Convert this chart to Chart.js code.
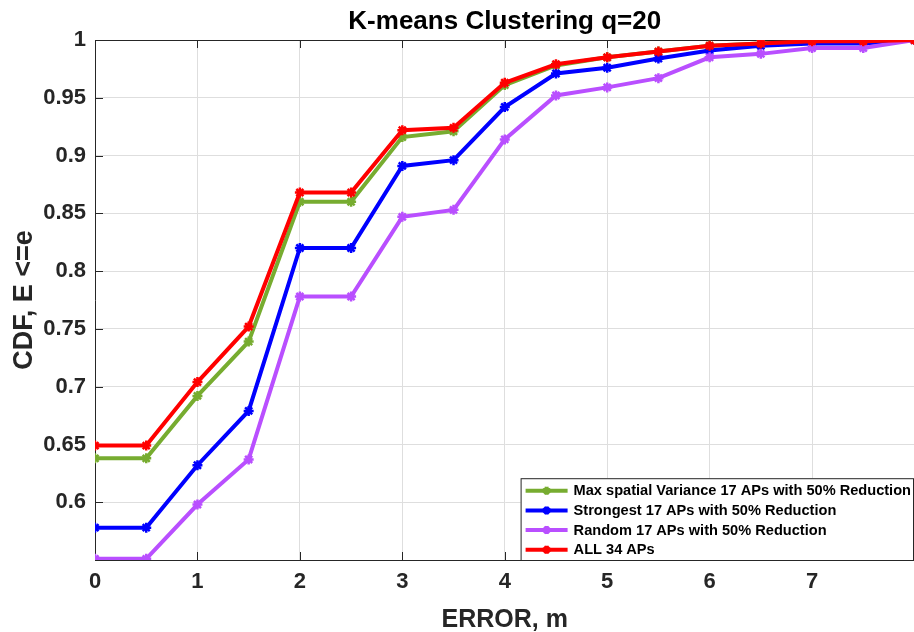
<!DOCTYPE html>
<html>
<head>
<meta charset="utf-8">
<script src="https://cdn.jsdelivr.net/npm/chart.js@4.4.1/dist/chart.umd.min.js"></script>
<style>
  html, body { margin: 0; padding: 0; background: #fff; overflow: hidden; }
  #wrap { width: 922px; height: 632px; }
</style>
</head>
<body>
<div id="wrap"><canvas id="cdf-chart"></canvas></div>
<script>
// 误差 (m)
const errors = [0, 0.5, 1, 1.5, 2, 2.5, 3, 3.5, 4, 4.5, 5, 5.5, 6, 6.5, 7, 7.5, 8];

// 各种AP选择方式下的 CDF
const maxVariance = [0.638, 0.638, 0.692, 0.739, 0.860, 0.860, 0.916, 0.921, 0.961, 0.978, 0.985, 0.990, 0.995, 0.997, 0.998, 0.998, 1.0];
const strongest   = [0.578, 0.578, 0.632, 0.679, 0.820, 0.820, 0.891, 0.896, 0.942, 0.971, 0.976, 0.984, 0.991, 0.995, 0.997, 0.997, 1.0];
const randomAps   = [0.551, 0.551, 0.598, 0.637, 0.778, 0.778, 0.847, 0.853, 0.914, 0.952, 0.959, 0.967, 0.985, 0.988, 0.993, 0.993, 1.0];
const allAps      = [0.649, 0.649, 0.704, 0.752, 0.868, 0.868, 0.922, 0.924, 0.963, 0.979, 0.985, 0.990, 0.995, 0.997, 0.999, 0.999, 1.0];

const seriesLabels = [
    'Max spatial Variance 17 APs with 50% Reduction',
    'Strongest 17 APs with 50% Reduction',
    'Random 17 APs with 50% Reduction',
    'ALL 34 APs'
];
const seriesColors = ['#77ac30', '#0000ff', '#b94fff', '#ff0000'];

// 刻度
const xTicks = [0, 1, 2, 3, 4, 5, 6, 7];
const xTickLabels = ['0', '1', '2', '3', '4', '5', '6', '7'];
const yTicks = [0.6, 0.65, 0.7, 0.75, 0.8, 0.85, 0.9, 0.95, 1];
const yTickLabels = ['0.6', '0.65', '0.7', '0.75', '0.8', '0.85', '0.9', '0.95', '1'];

const chartTitle = 'K-means Clustering q=20';

const FONT = "'Liberation Sans', Arial, sans-serif";
const AXIS_COLOR = '#262626';

const ctx = document.getElementById('cdf-chart').getContext('2d');

function makeDataset(i, values) {
    return {
        label: seriesLabels[i],
        data: errors.map((x, k) => ({ x: x, y: values[k] })),
        borderColor: seriesColors[i],
        backgroundColor: seriesColors[i],
        borderWidth: 4,
        pointStyle: 'star',
        pointRadius: 5,
        pointBorderWidth: 2.5,
        pointHoverRadius: 5,
        tension: 0,
        order: 3 - i // 红线画在最上面
    };
}

// 标题居中于坐标区上方
const axesTitle = {
    id: 'axesTitle',
    afterDraw(chart) {
        const { ctx, chartArea } = chart;
        ctx.save();
        ctx.font = 'bold 26px ' + FONT;
        ctx.fillStyle = '#000';
        ctx.textAlign = 'center';
        ctx.textBaseline = 'alphabetic';
        ctx.fillText(chartTitle, (chartArea.left + chartArea.right) / 2, 28.5);
        ctx.restore();
    }
};

// 内向刻度线 + 上边框 (MATLAB 风格)
const boxTicks = {
    id: 'boxTicks',
    beforeDatasetsDraw(chart) {
        const { ctx, chartArea, scales } = chart;
        const len = 8;
        ctx.save();
        ctx.strokeStyle = AXIS_COLOR;
        ctx.lineWidth = 1;
        ctx.beginPath();
        ctx.moveTo(chartArea.left, chartArea.top + 0.5);
        ctx.lineTo(chartArea.right, chartArea.top + 0.5);
        xTicks.forEach(v => {
            const px = Math.round(scales.x.getPixelForValue(v)) + 0.5;
            ctx.moveTo(px, chartArea.bottom);
            ctx.lineTo(px, chartArea.bottom - len);
            ctx.moveTo(px, chartArea.top);
            ctx.lineTo(px, chartArea.top + len);
        });
        yTicks.forEach(v => {
            const py = Math.round(scales.y.getPixelForValue(v)) + 0.5;
            ctx.moveTo(chartArea.left, py);
            ctx.lineTo(chartArea.left + len, py);
        });
        ctx.stroke();
        ctx.restore();
    }
};

// 图例放在坐标区右下角
const insideLegend = {
    id: 'insideLegend',
    afterDraw(chart) {
        const { ctx, chartArea } = chart;
        const rowH = 19.7;
        const right = 913;
        const bottom = chartArea.bottom;
        ctx.save();
        ctx.font = 'bold 14.6px ' + FONT;
        let textW = 0;
        seriesLabels.forEach(t => { textW = Math.max(textW, ctx.measureText(t).width); });
        const left = right - (5 + 42 + 6 + textW + 2);
        const top = bottom - rowH * 4 - 3;
        ctx.fillStyle = '#fff';
        ctx.fillRect(left, top, right - left, bottom - top);
        ctx.strokeStyle = AXIS_COLOR;
        ctx.lineWidth = 1;
        ctx.strokeRect(left + 0.5, top + 0.5, right - left, bottom - top);
        seriesLabels.forEach((t, i) => {
            const cy = top + 12.5 + i * rowH;
            const x0 = left + 5;
            ctx.strokeStyle = seriesColors[i];
            ctx.lineWidth = 4;
            ctx.beginPath();
            ctx.moveTo(x0, cy);
            ctx.lineTo(x0 + 42, cy);
            ctx.stroke();
            ctx.fillStyle = seriesColors[i];
            Chart.helpers.drawPoint(ctx, { pointStyle: 'star', radius: 4, borderWidth: 2.5 }, x0 + 21, cy);
            ctx.fillStyle = '#000';
            ctx.textBaseline = 'middle';
            ctx.textAlign = 'left';
            ctx.fillText(t, x0 + 48, cy + 0.5);
        });
        ctx.restore();
    }
};

const chart = new Chart(ctx, {
    type: 'line',
    data: {
        datasets: [
            makeDataset(0, maxVariance),
            makeDataset(1, strongest),
            makeDataset(2, randomAps),
            makeDataset(3, allAps)
        ]
    },
    options: {
        responsive: true,
        maintainAspectRatio: false,
        animation: false,
        layout: { padding: { top: 40, left: 0, right: 0, bottom: 0 } },
        plugins: {
            legend: { display: false },
            tooltip: { enabled: false },
            title: { display: false }
        },
        scales: {
            x: {
                type: 'linear',
                min: 0,
                max: 8,
                afterBuildTicks: scale => { scale.ticks = xTicks.map(v => ({ value: v })); },
                afterFit: scale => { scale.height = 72; },
                ticks: {
                    color: AXIS_COLOR,
                    font: { family: FONT, size: 22, weight: 'bold' },
                    padding: 9,
                    maxRotation: 0,
                    callback: v => xTickLabels[xTicks.indexOf(v)]
                },
                grid: { color: '#dedede', drawTicks: false },
                border: { color: AXIS_COLOR, width: 1 },
                title: {
                    display: true,
                    text: 'ERROR, m',
                    color: AXIS_COLOR,
                    font: { family: FONT, size: 25, weight: 'bold' },
                    padding: { top: 0, bottom: -3 }
                }
            },
            y: {
                min: 0.55,
                max: 1,
                afterBuildTicks: scale => { scale.ticks = yTicks.map(v => ({ value: v })); },
                afterFit: scale => { scale.width = 95; },
                ticks: {
                    color: AXIS_COLOR,
                    font: { family: FONT, size: 22, weight: 'bold' },
                    padding: 9,
                    callback: v => yTickLabels[yTicks.findIndex(t => Math.abs(t - v) < 1e-6)]
                },
                grid: { color: '#dedede', drawTicks: false },
                border: { color: AXIS_COLOR, width: 1 },
                title: {
                    display: true,
                    text: 'CDF, E <=e',
                    color: AXIS_COLOR,
                    font: { family: FONT, size: 27, weight: 'bold' },
                    padding: { top: 8, bottom: 0 }
                }
            }
        }
    },
    plugins: [boxTicks, insideLegend, axesTitle]
});
</script>
</body>
</html>
